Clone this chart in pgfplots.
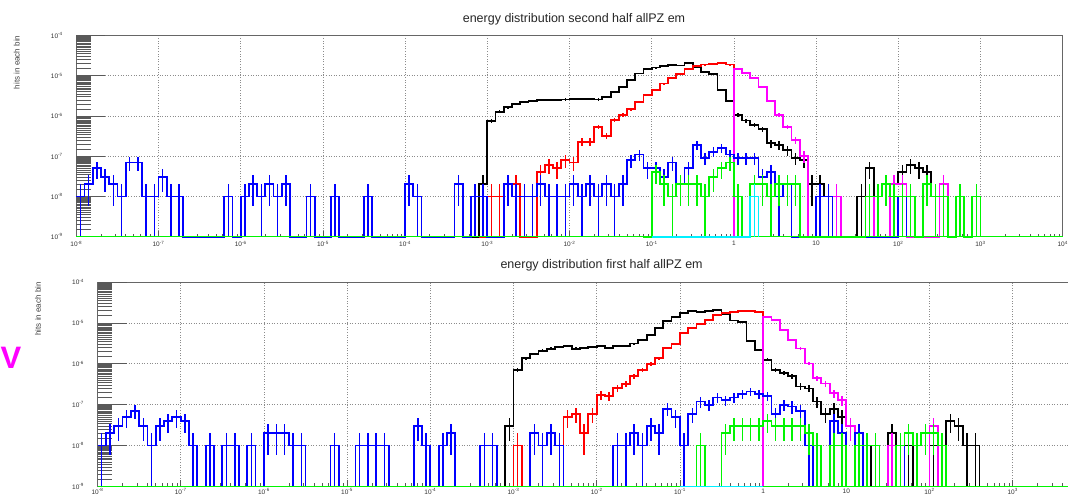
\documentclass[border=0pt]{standalone}
\usepackage{fontspec}
\setmainfont{Liberation Sans}
\usepackage{pgfplots}
\usepackage{pgfplotstable}
\pgfplotsset{compat=1.18}

\definecolor{rblue}{RGB}{0,0,255}
\definecolor{rgreen}{RGB}{0,245,0}
\definecolor{rred}{RGB}{255,0,0}
\definecolor{rmag}{RGB}{255,0,255}
\definecolor{rcyan}{RGB}{0,240,255}

% x = bin index (10 bins per decade, bin 0 starts at 1e-8)
% y = log10(hits), 1 hit = 1e-8
\def\xminor{}
\foreach \d in {0,10,...,110}{\foreach \f in {3.0103,4.7712,6.0206,6.9897,7.7815,8.4510,9.0309,9.5424}{%
  \pgfmathparse{\d+\f}\xdef\xminor{\xminor\pgfmathresult,}}}
\xdef\xminor{\xminor 119.5424}
\def\yminor{}
\foreach \e in {-1,0,1,2,3}{\foreach \m in {1.5,2,2.5,3,3.5,4,4.5,5,5.5,6,6.5,7,7.5,8,8.5,9,9.5}{%
  \pgfmathparse{\e+log10(\m)}\xdef\yminor{\yminor\pgfmathresult,}}}
\xdef\yminor{\yminor 3.9777}

% ---- second half (top) ----
\pgfplotstableread[row sep=\\]{n\\
1\\2\\5\\3\\2\\1\\7\\7\\1\\1\\
3\\1\\1\\0\\0\\0\\0\\0\\1\\0\\
1\\2\\1\\2\\1\\2\\0\\0\\1\\0\\
0\\1\\0\\0\\0\\1\\0\\0\\0\\0\\
2\\1\\0\\0\\0\\0\\2\\0\\1\\1\\
0\\0\\2\\1\\1\\1\\2\\1\\1\\1\\
2\\1\\2\\1\\2\\1\\2\\8\\11\\5\\
5\\3\\7\\2\\5\\19\\9\\13\\16\\11\\
9\\9\\9\\3\\4\\1\\2\\0\\0\\0\\
1\\1\\0\\0\\0\\0\\0\\0\\0\\0\\
1\\0\\}\tBlueA   % from bin 0
\pgfplotstableread[row sep=\\]{n\\
0\\2\\
75\\128\\165\\198\\227\\240\\250\\250\\253\\258\\
265\\270\\262\\258\\300\\400\\530\\780\\1140\\1450\\
1600\\1750\\1870\\1800\\2100\\1650\\1250\\1100\\440\\240\\
105\\77\\60\\47\\21\\19\\14\\9\\8\\2\\
2\\1\\0\\0\\0\\1\\5\\1\\2\\2\\
4\\6\\5\\4\\1\\0\\}\tBlackA  % from bin 48
\pgfplotstableread[row sep=\\]{n\\
0\\
1\\1\\2\\2\\0\\0\\4\\6\\5\\8\\
7\\23\\23\\54\\32\\80\\106\\146\\226\\330\\
450\\640\\860\\1100\\1440\\1740\\1900\\2000\\2100\\1900\\
0\\}\tRedA    % from bin 49
\pgfplotstableread[row sep=\\]{n\\
0\\
1440\\1180\\860\\530\\240\\106\\54\\25\\10\\0\\
0\\0\\1\\0\\0\\0\\1\\0\\0\\2\\
2\\0\\0\\0\\0\\2\\0\\}\tMagA    % from bin 79
\pgfplotstableread[row sep=\\]{n\\
0\\
4\\2\\1\\2\\2\\2\\1\\3\\5\\7\\
1\\0\\2\\2\\1\\2\\2\\2\\0\\0\\
0\\0\\0\\0\\0\\0\\1\\1\\2\\1\\
1\\1\\0\\2\\1\\1\\0\\1\\0\\1\\
0\\}\tGreenA  % from bin 69
\pgfplotstableread[row sep=\\]{n\\
0\\0\\0\\0\\0\\0\\0\\0\\0\\0\\0\\0\\1\\0\\}\tCyanA   % from bin 70

% ---- first half (bottom) ----
\pgfplotstableread[row sep=\\]{n\\
1\\2\\3\\5\\7\\3\\1\\3\\4\\5\\
4\\1\\0\\1\\0\\1\\1\\0\\1\\0\\
2\\2\\2\\1\\1\\0\\0\\0\\1\\0\\
0\\1\\1\\1\\1\\0\\0\\0\\3\\1\\
0\\1\\2\\0\\0\\0\\1\\1\\0\\0\\
0\\0\\2\\1\\2\\1\\0\\0\\0\\0\\
0\\0\\1\\1\\2\\1\\3\\2\\8\\5\\
1\\6\\12\\10\\15\\13\\15\\18\\21\\18\\
16\\6\\10\\9\\7\\1\\0\\0\\4\\2\\
0\\2\\0\\0\\0\\0\\1\\0\\}\tBlueB   % from bin 0
\pgfplotstableread[row sep=\\]{n\\
0\\3\\
72\\139\\175\\210\\235\\258\\268\\235\\240\\253\\
268\\245\\268\\278\\312\\390\\500\\755\\1100\\1370\\
1770\\1930\\1830\\1930\\2030\\1660\\1150\\1050\\355\\220\\
125\\70\\60\\50\\28\\25\\12\\6\\8\\5\\
3\\2\\0\\1\\0\\2\\1\\1\\0\\0\\
1\\0\\4\\3\\1\\1\\0\\}\tBlackB  % from bin 48
\pgfplotstableread[row sep=\\]{n\\
0\\
1\\0\\0\\0\\0\\0\\5\\6\\2\\6\\
17\\16\\26\\32\\50\\72\\100\\139\\245\\310\\
570\\750\\940\\1200\\1530\\1750\\1850\\1930\\1930\\1850\\
0\\}\tRedB    % from bin 49
\pgfplotstableread[row sep=\\]{n\\
0\\
1400\\1160\\660\\380\\237\\102\\44\\33\\19\\13\\
3\\1\\0\\0\\0\\1\\0\\0\\0\\0\\
3\\0\\}\tMagB    % from bin 79
\pgfplotstableread[row sep=\\]{n\\
0\\
1\\0\\0\\2\\3\\3\\3\\3\\4\\3\\
3\\3\\3\\2\\1\\0\\1\\1\\0\\1\\
1\\1\\0\\0\\1\\2\\1\\2\\2\\1\\
0\\}\tGreenB  % from bin 71
\pgfplotstableread[row sep=\\]{n\\
0\\0\\0\\0\\0\\0\\0\\0\\0\\0\\0\\}\tCyanB   % from bin 70

% histogram: steps + vertical error bars; #1 table, #2 first bin, #3 colour
\newcommand{\hist}[3]{%
  \addplot[#3, const plot, line width=1.8pt, mark=none]
    table[x index=0, y index=0, x expr=\coordindex+#2,
      y expr={log10(max(\thisrow{n},0.1))}] {#1};
  \addplot[#3, line width=1.5pt, only marks, mark=*, mark size=0pt,
    mark options={draw=none, fill=none},
    error bars/.cd, y dir=both, y explicit, error mark=none,
    error bar style={line width=1.5pt, #3}]
    table[x index=0, y index=0, x expr=\coordindex+#2+0.5,
      y expr={\thisrow{n}>0 ? log10(max(\thisrow{n},0.1)) : nan},
      y error plus expr={log10(max(\thisrow{n},0.1)+sqrt(\thisrow{n}))-log10(max(\thisrow{n},0.1))},
      y error minus expr={log10(max(\thisrow{n},0.1))-log10(max(\thisrow{n}-sqrt(\thisrow{n}),0.1))}] {#1};
}
% long ROOT-like y ticks on the left edge
\newcommand{\rootyticks}{%
  \expandafter\pgfplotsinvokeforeach\expandafter{\yminor}{%
    \draw[black!65, line width=0.7pt] (axis cs:0,##1) -- (axis cs:1.8,##1);}
  \pgfplotsinvokeforeach{-1,0,1,2,3,4}{%
    \draw[black!65, line width=0.7pt] (axis cs:0,##1) -- (axis cs:3.5,##1);}
}

\pgfplotsset{
  rootaxis/.style={
    scale only axis, clip=false,
    xmin=0, xmax=120, ymin=-1, ymax=4,
    axis line style={black!60, line width=0.8pt},
    tick pos=left, tick align=inside,
    xtick={0,10,...,120},
    minor xtick=\xminor,
    ytick={-1,0,1,2,3,4},
    yticklabels={10\textsuperscript{-9},10\textsuperscript{-8},10\textsuperscript{-7},
      10\textsuperscript{-6},10\textsuperscript{-5},10\textsuperscript{-4}},
    major tick length=6pt, minor tick length=3pt,
    tick style={black!65, line width=0.7pt},
    grid=major,
    major grid style={black!45, line width=0.6pt, dash pattern=on 1pt off 1.6pt},
    ticklabel style={font=\fontsize{6.5}{7}\selectfont, text=black!80},
    yticklabel style={xshift=-10pt},
  }
}

\begin{document}
\begin{tikzpicture}
\useasboundingbox (0,0) rectangle (1068pt,495pt);
\clip (0,0) rectangle (1068pt,495pt);

\begin{axis}[rootaxis, at={(76.3pt,258.3pt)}, anchor=south west,
  width=986.4pt, height=201.2pt, xticklabel style={yshift=-1pt},
  xticklabels={10\textsuperscript{-8},10\textsuperscript{-7},10\textsuperscript{-6},
    10\textsuperscript{-5},10\textsuperscript{-4},10\textsuperscript{-3},
    10\textsuperscript{-2},10\textsuperscript{-1},1,10,
    10\textsuperscript{2},10\textsuperscript{3},10\textsuperscript{4}}]
  \rootyticks
  \hist{\tBlackA}{48}{black}
  \hist{\tRedA}{49}{rred}
  \hist{\tMagA}{79}{rmag}
  \hist{\tBlueA}{0}{rblue}
  \hist{\tGreenA}{69}{rgreen}
  \addplot[rgreen, line width=1.6pt] coordinates {(0,-1) (120,-1)};
  \hist{\tCyanA}{70}{rcyan}
\end{axis}

\begin{axis}[rootaxis, at={(97.5pt,8.5pt)}, anchor=south west,
  width=998.4pt, height=204.5pt, xticklabel style={yshift=1.5pt},
  xticklabels={10\textsuperscript{-8},10\textsuperscript{-7},10\textsuperscript{-6},
    10\textsuperscript{-5},10\textsuperscript{-4},10\textsuperscript{-3},
    10\textsuperscript{-2},10\textsuperscript{-1},1,10,
    10\textsuperscript{2},10\textsuperscript{3},{}}]
  \rootyticks
  \hist{\tBlackB}{48}{black}
  \hist{\tRedB}{49}{rred}
  \hist{\tMagB}{79}{rmag}
  \hist{\tBlueB}{0}{rblue}
  \hist{\tGreenB}{71}{rgreen}
  \addplot[rgreen, line width=1.6pt] coordinates {(0,-1) (120,-1)};
  \hist{\tCyanB}{70}{rcyan}
\end{axis}

\node[font=\fontsize{12.5}{14}\selectfont, text=black!85] at (574pt,476pt)
  {energy distribution second half allPZ em};
\node[font=\fontsize{12.5}{14}\selectfont, text=black!85] at (601.6pt,229.5pt)
  {energy distribution first half allPZ em};
\node[rotate=90, anchor=east, inner sep=0pt, font=\fontsize{8}{9}\selectfont, text=black!75]
  at (16.7pt,459.5pt) {hits in each bin};
\node[rotate=90, anchor=east, inner sep=0pt, font=\fontsize{8}{9}\selectfont, text=black!75]
  at (38pt,213pt) {hits in each bin};
\node[text=rmag, inner sep=0pt, font=\fontsize{31}{31}\selectfont\bfseries] at (11pt,136.7pt) {V};
\end{tikzpicture}
\end{document}
